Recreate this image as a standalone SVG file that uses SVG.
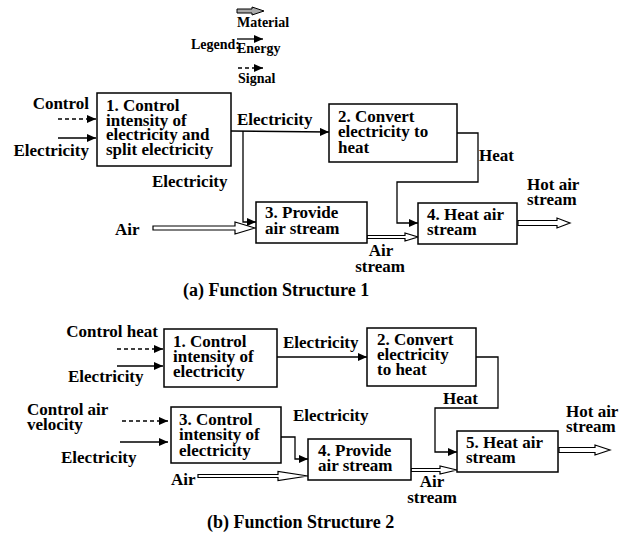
<svg xmlns="http://www.w3.org/2000/svg" width="626" height="535" viewBox="0 0 626 535">
<defs>
<marker id="ah" markerUnits="userSpaceOnUse" markerWidth="10" markerHeight="8" refX="9" refY="4" orient="auto">
<path d="M0,0 L9,4 L0,8 z" fill="#000"/>
</marker>
<style>
text{font-family:'Liberation Serif','Times New Roman',Tinos,'Nimbus Roman','DejaVu Serif',serif;font-weight:bold;font-size:17px;fill:#000}
.lg{font-size:14px}
.cap{font-size:18px}
.box{fill:#fff;stroke:#000;stroke-width:1.5}
.en{fill:none;stroke:#000;stroke-width:1.3;marker-end:url(#ah)}
.sg{fill:none;stroke:#000;stroke-width:1.3;stroke-dasharray:4,3;marker-end:url(#ah)}
.mt{fill:#fff;stroke:#000;stroke-width:1.2}
.mid{text-anchor:middle}
.end{text-anchor:end}
</style>
</defs>
<rect width="626" height="535" fill="#fff"/>
<g font-family="'Liberation Serif','Times New Roman',Tinos,'Nimbus Roman','DejaVu Serif',serif" font-weight="bold">

<g id="legend">
<path d="M237,9 L252,9 L252,7 L264,11 L252,15 L252,13 L237,13 z" fill="#aaa" stroke="#000" stroke-width="1"/>
<text class="lg" x="237" y="27">Material</text>
<text class="lg" x="191" y="49">Legend:</text>
<line class="en" x1="237" y1="39" x2="263" y2="39"/>
<text class="lg" x="237" y="53">Energy</text>
<line class="sg" x1="238" y1="68" x2="263" y2="68"/>
<text class="lg" x="238" y="83">Signal</text>
</g>

<g id="connectors-a">
<line class="sg" x1="58" y1="119" x2="96" y2="119"/>
<line class="en" x1="58" y1="138" x2="96" y2="138"/>
<path class="en" d="M231,131 L329,132"/>
<path class="en" d="M243,131 L243,222 L256,222"/>
<path class="en" d="M457,133 L478,133 L478,182 L397,182 L397,223 L418,223"/>
<path class="mt" d="M153,226 L235,226 L235,222 L255,228 L235,234 L235,230 L153,230 z"/>
<path class="mt" d="M367,235.5 L405,235.5 L405,233 L418,237 L405,241 L405,238.5 L367,238.5 z"/>
<path class="mt" d="M518,220.5 L557,220.5 L557,218 L570,223 L557,228 L557,225.5 L518,225.5 z"/>
</g>

<g id="a-labels">
<text class="end" x="89" y="109">Control</text>
<text class="end" x="89" y="156">Electricity</text>
<text x="237" y="125">Electricity</text>
<text x="152" y="187">Electricity</text>
<text x="115" y="235">Air</text>
<text x="479" y="161">Heat</text>
<text class="mid" x="381" y="256">Air</text>
<text class="mid" x="380" y="272">stream</text>
<text x="527" y="190">Hot air</text>
<text x="527" y="205">stream</text>
<text class="cap" x="183" y="296">(a) Function Structure 1</text>
</g>

<g id="a-node1">
<rect class="box" x="97" y="93" width="134" height="73"/>
<text x="106" y="111">1. Control</text>
<text x="106" y="126">intensity of</text>
<text x="106" y="140">electricity and</text>
<text x="106" y="155">split electricity</text>
</g>
<g id="a-node2">
<rect class="box" x="329" y="104" width="128" height="58"/>
<text x="338" y="122">2. Convert</text>
<text x="338" y="137">electricity to</text>
<text x="338" y="153">heat</text>
</g>
<g id="a-node3">
<rect class="box" x="256" y="202" width="111" height="41"/>
<text x="265" y="218">3. Provide</text>
<text x="265" y="234">air stream</text>
</g>
<g id="a-node4">
<rect class="box" x="418" y="203" width="99" height="41"/>
<text x="427" y="220">4. Heat air</text>
<text x="427" y="235">stream</text>
</g>

<g id="connectors-b">
<line class="sg" x1="117" y1="349" x2="163" y2="349"/>
<line class="en" x1="117" y1="366" x2="163" y2="366"/>
<path class="en" d="M277,357 L367,357"/>
<path class="en" d="M476,357 L498,357 L498,408 L435,408 L435,452 L457,452"/>
<line class="sg" x1="122" y1="421" x2="168" y2="421"/>
<line class="en" x1="120" y1="442" x2="168" y2="442"/>
<path class="en" d="M281,437 L295,437 L295,459 L308,459"/>
<path class="mt" d="M198,474.5 L278,474.5 L278,471.5 L308,476 L278,480.5 L278,477.5 L198,477.5 z"/>
<path class="mt" d="M411,468.5 L440,468.5 L440,466 L457,470 L440,474 L440,471.5 L411,471.5 z"/>
<path class="mt" d="M559,447.5 L595,447.5 L595,445 L610,450 L595,455 L595,452.5 L559,452.5 z"/>
</g>

<g id="b-labels">
<text class="end" x="158" y="337">Control heat</text>
<text x="68" y="382">Electricity</text>
<text x="283" y="348">Electricity</text>
<text x="443" y="404">Heat</text>
<text x="293" y="421">Electricity</text>
<text x="27" y="415">Control air</text>
<text x="27" y="430">velocity</text>
<text x="61" y="463">Electricity</text>
<text x="171" y="485">Air</text>
<text class="mid" x="432" y="487">Air</text>
<text class="mid" x="432" y="503">stream</text>
<text x="566" y="417">Hot air</text>
<text x="566" y="432">stream</text>
<text class="cap" x="207" y="528">(b) Function Structure 2</text>
</g>

<g id="b-node1">
<rect class="box" x="164" y="329" width="113" height="58"/>
<text x="173" y="347">1. Control</text>
<text x="173" y="362">intensity of</text>
<text x="173" y="377">electricity</text>
</g>
<g id="b-node2">
<rect class="box" x="367" y="328" width="109" height="58"/>
<text x="377" y="345">2. Convert</text>
<text x="377" y="360">electricity</text>
<text x="377" y="375">to heat</text>
</g>
<g id="b-node3">
<rect class="box" x="171" y="407" width="110" height="56"/>
<text x="179" y="425">3. Control</text>
<text x="179" y="440">intensity of</text>
<text x="179" y="456">electricity</text>
</g>
<g id="b-node4">
<rect class="box" x="308" y="439" width="103" height="41"/>
<text x="318" y="456">4. Provide</text>
<text x="318" y="471">air stream</text>
</g>
<g id="b-node5">
<rect class="box" x="457" y="431" width="101" height="41"/>
<text x="466" y="448">5. Heat air</text>
<text x="466" y="463">stream</text>
</g>
</g>
</svg>
